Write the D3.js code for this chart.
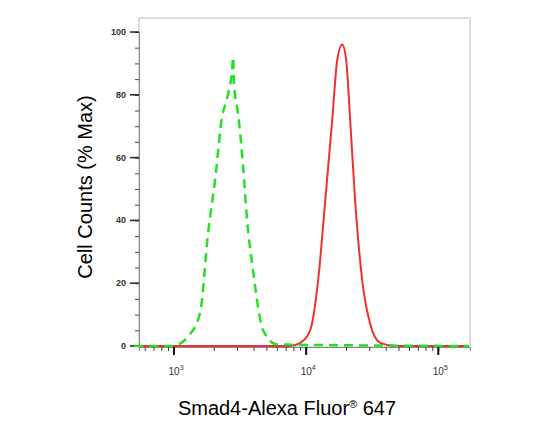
<!DOCTYPE html>
<html><head><meta charset="utf-8">
<script src="https://cdn.jsdelivr.net/npm/d3@7"></script>
<style>body{margin:0;background:#fff}</style></head>
<body><svg id="c" width="554" height="433"></svg>
<script>
const greenX=[500,980,1276,1574,1811,2047,2311,2523,2750,2800,2850,3055,3334,3574,3966,4325,4720,6025,170000];
const greenY=[0,0,3,10.5,36,53,73,79,88,92,83,74,57,40,24,12.5,5,0.5,0];
const redX=[550,7570,9010,10720,12330,13930,15750,17180,18750,20100,21530,23500,26550,30540,36380,47200,170000];
const redY=[0,0,1,5,21,46,72,91,96,91,72,46,21,7,1,0,0];
const yTicks=[0,20,40,60,80,100];
const xDecades=[1000,10000,100000];
const svg=d3.select("#c");
const L=139,R=470,T=18,B=347;
const x=d3.scaleLog().domain([Math.pow(10,2.735),Math.pow(10,5.24)]).range([L,R]);
const y=d3.scaleLinear().domain([0,100]).range([346,32]);
svg.append("rect").attr("x",L).attr("y",T).attr("width",R-L).attr("height",B-T).attr("fill","none").attr("stroke","#bbb");
const ya=svg.append("g").attr("transform",`translate(${L},0)`).call(d3.axisLeft(y).tickValues(d3.range(0,101,5)).tickSize(4).tickFormat(""));
ya.selectAll("line").attr("stroke","#444");
ya.select(".domain").attr("stroke","#888");
yTicks.forEach(v=>{
 svg.append("line").attr("x1",L-9).attr("x2",L).attr("y1",y(v)).attr("y2",y(v)).attr("stroke","#222").attr("stroke-width",1.5);
 svg.append("text").attr("x",L-13).attr("y",y(v)+3).attr("text-anchor","end").attr("font-family","Liberation Sans, Arial").attr("font-size",9).attr("font-weight","bold").attr("fill","#333").text(v);
});
const minor=[];
for(let d=100;d<=100000;d*=10)for(let k=1;k<10;k++){const v=d*k;if(v>=x.domain()[0]&&v<=x.domain()[1])minor.push(v);}
const xa=svg.append("g").attr("transform",`translate(0,${B})`).call(d3.axisBottom(x).tickValues(minor).tickSize(4).tickFormat(""));
xa.selectAll("line").attr("stroke","#444");
xa.select(".domain").attr("stroke","#888");
xDecades.forEach(v=>{
 svg.append("line").attr("x1",x(v)).attr("x2",x(v)).attr("y1",B).attr("y2",B+8).attr("stroke","#111").attr("stroke-width",2);
 const t=svg.append("text").attr("x",x(v)+2).attr("y",B+28).attr("text-anchor","middle").attr("font-family","Liberation Sans, Arial").attr("font-size",10).attr("fill","#333");
 t.append("tspan").text("10");
 t.append("tspan").attr("dy",-5).attr("font-size",7).text(Math.round(Math.log10(v)));
});
const line=d3.line().x(d=>x(d[0])).y(d=>y(d[1])).curve(d3.curveMonotoneX);
svg.append("path").attr("d",line(redX.map((v,i)=>[v,redY[i]]))).attr("fill","none").attr("stroke","#f03030").attr("stroke-width",2);
svg.append("path").attr("d",line(greenX.map((v,i)=>[v,greenY[i]]))).attr("fill","none").attr("stroke","#22e022").attr("stroke-width",2.5).attr("stroke-dasharray","9,6");
svg.append("text").attr("transform","translate(92,187) rotate(-90)").attr("text-anchor","middle").attr("font-family","Liberation Sans, Arial").attr("font-size",20).text("Cell Counts (% Max)");
const xt=svg.append("text").attr("x",287).attr("y",415).attr("text-anchor","middle").attr("font-family","Liberation Sans, Arial").attr("font-size",20);
xt.append("tspan").text("Smad4-Alexa Fluor");
xt.append("tspan").attr("font-size",11).attr("dy",-7).text("®");
xt.append("tspan").attr("dy",7).text(" 647");
</script></body></html>
